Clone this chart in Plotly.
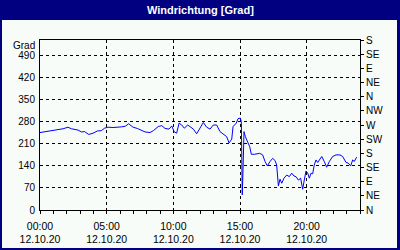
import plotly.graph_objects as go

# --- data (hours since 00:00 on 12.10.20, wind direction in degrees) ---
hours = [0.0, 0.35, 0.73, 1.35, 1.73, 2.1, 2.35, 2.85, 3.1, 3.35, 3.65, 3.98, 4.3, 4.6, 4.85,
         5.1, 5.48, 6.1, 6.4, 6.65, 6.98, 7.3, 7.63, 7.88, 8.25, 8.5, 8.87, 9.13, 9.38, 9.68,
         9.88, 10.07, 10.25, 10.43, 10.63, 10.82, 11.08, 11.33, 11.5, 11.75, 12.0, 12.25, 12.5,
         12.75, 13.0, 13.25, 13.5, 13.75, 14.0, 14.18, 14.38, 14.48, 14.72, 14.85, 15.02, 15.1,
         15.13, 15.17, 15.23, 15.3, 15.4, 15.55, 15.73, 15.85, 16.1, 16.48, 16.7, 16.88, 17.05,
         17.25, 17.45, 17.63, 17.75, 17.88, 18.0, 18.13, 18.3, 18.5, 18.7, 18.88, 19.05, 19.2,
         19.38, 19.55, 19.7, 19.82, 19.95, 20.08, 20.2, 20.33, 20.45, 20.57, 20.7, 20.83, 20.95,
         21.13, 21.32, 21.5, 21.7, 21.95, 22.2, 22.5, 22.7, 22.95, 23.12, 23.3, 23.45, 23.57, 23.75]
direction = [246, 248, 252, 255, 258, 263, 258, 254, 248, 249, 240, 244, 251, 252, 260,
             263, 262, 264, 266, 274, 263, 259, 254, 248, 246, 252, 265, 268, 259, 257,
             267, 248, 244, 276, 270, 260, 270, 261, 257, 242, 260, 278, 263,
             257, 270, 270, 249, 242, 233, 213, 225, 265, 276, 290, 292, 281,
             111, 48, 133, 249, 233, 217, 201, 177, 177, 180, 175, 154, 140,
             154, 164, 157, 143, 76, 98, 85, 101, 111, 106, 117, 108, 106,
             95, 101, 66, 95, 124, 117, 101, 117, 115, 143, 159, 151, 159,
             170, 154, 136, 154, 170, 175, 175, 170, 151, 149, 140, 159, 154, 168]

x_tick_vals = [0, 5, 10, 15, 20]
x_tick_text = ["00:00<br>12.10.20", "05:00<br>12.10.20", "10:00<br>12.10.20",
               "15:00<br>12.10.20", "20:00<br>12.10.20"]
y_tick_vals = [0, 70, 140, 210, 280, 350, 420, 490]
compass_vals = [0, 45, 90, 135, 180, 225, 270, 315, 360, 405, 450, 495, 540]
compass_text = ["N", "NE", "E", "SE", "S", "SW", "W", "NW", "N", "NE", "E", "SE", "S"]

title_text = "Windrichtung [Grad]"
unit_text = "Grad"

NAVY = "#000080"
BG = "#f8fcf8"
FONT = "Liberation Sans"

fig = go.Figure()
fig.add_trace(go.Scatter(x=hours, y=direction, mode="lines",
                         line=dict(color="#0000ff", width=1), showlegend=False,
                         hoverinfo="skip"))
# invisible trace to activate the right axis
fig.add_trace(go.Scatter(x=[0], y=[0], yaxis="y2", mode="markers",
                         marker=dict(opacity=0), showlegend=False, hoverinfo="skip"))

W, H = 400, 250
L, R, T, B = 40, 40, 40, 40
pw, ph = W - L - R, H - T - B

def px(x):
    return (x - L) / pw

def py(y):
    return (H - B - y) / ph

fig.update_layout(
    width=W, height=H,
    margin=dict(l=L, r=R, t=T, b=B, pad=0, autoexpand=False),
    paper_bgcolor=NAVY,
    plot_bgcolor=BG,
    font=dict(family=FONT, size=10, color="black"),
    shapes=[dict(type="rect", xref="paper", yref="paper", layer="below",
                 x0=px(2), x1=px(397), y0=py(248), y1=py(20),
                 fillcolor=BG, line=dict(width=0))],
    annotations=[
        dict(text="<b>" + title_text + "</b>", xref="paper", yref="paper",
             x=0.5, y=py(10), xanchor="center", yanchor="middle", showarrow=False,
             font=dict(family=FONT, size=11, color="white")),
        dict(text=unit_text, xref="paper", yref="paper", x=px(37), y=py(45),
             xanchor="right", yanchor="middle", showarrow=False,
             font=dict(family=FONT, size=10, color="black")),
    ],
    xaxis=dict(range=[0, 24], tickvals=x_tick_vals, ticktext=x_tick_text,
               showgrid=True, gridcolor="black", gridwidth=1, griddash="3px,3px",
               showline=True, linecolor="black", linewidth=1, mirror=True,
               ticks="outside", ticklen=3, tickcolor="black", ticklabelstandoff=3,
               tickfont=dict(family=FONT, size=10.5), automargin=False,
               minor=dict(dtick=1, tick0=0, ticks="outside", ticklen=3, tickcolor="black",
                          showgrid=False),
               zeroline=False, fixedrange=True),
    yaxis=dict(range=[0, 540], tickvals=y_tick_vals,
               showgrid=True, gridcolor="black", gridwidth=1, griddash="3px,3px",
               showline=True, linecolor="black", linewidth=1, mirror=True,
               ticks="", ticklabelstandoff=2, automargin=False,
               zeroline=False, fixedrange=True),
    yaxis2=dict(range=[0, 540], tickvals=compass_vals, ticktext=compass_text,
                overlaying="y", side="right", showgrid=False,
                showline=True, linecolor="black", linewidth=1,
                ticks="outside", ticklen=3, tickcolor="black", automargin=False,
                zeroline=False, fixedrange=True),
)

fig.write_html("out.html")
